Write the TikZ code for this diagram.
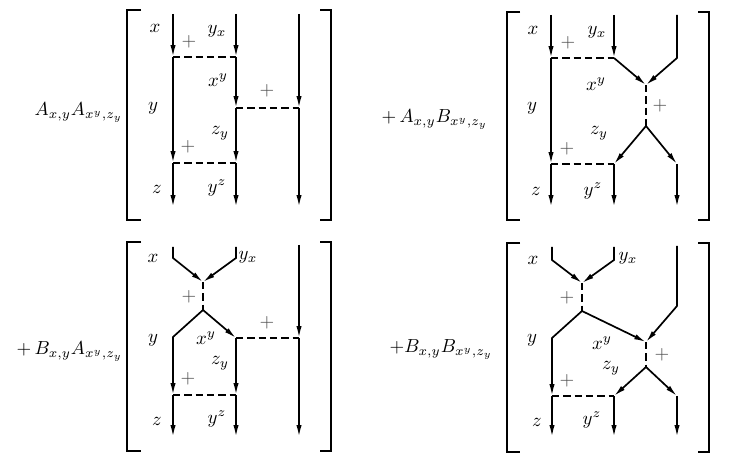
\documentclass[tikz,border=0pt]{standalone}
\usetikzlibrary{arrows.meta}
\begin{document}
\begin{tikzpicture}[x=0.53pt,y=-0.53pt,
  wire/.style={line width=0.9pt},
  arr/.style={wire,-{Latex[length=6.3pt,width=2.8pt]}},
  link/.style={line width=0.9pt,dash pattern=on 3.9pt off 2.1pt},
  brk/.style={line width=0.75pt},
  lbl/.style={inner sep=0pt},
  pl/.style={inner sep=0pt,text=black!70},
  big/.style={inner sep=0pt,anchor=base east}]
\useasboundingbox (0,0) rectangle (732,463);

% ===== Panel 1 (top left) =====
\draw[brk] (141,10) -- (127,10) -- (127,220) -- (141,220);
\draw[brk] (320,10) -- (331,10) -- (331,220) -- (320,220);
\node[big] (L1) at (123,116) {$A_{x,y}A_{x^y,z_y}$};
\coordinate (a1t) at (173,14);  \coordinate (a1p) at (173,57);
\coordinate (a1q) at (173,163); \coordinate (a1b) at (173,207);
\coordinate (a2t) at (236,14);  \coordinate (a2p) at (236,57);
\coordinate (a2r) at (236,108); \coordinate (a2q) at (236,163);
\coordinate (a2b) at (236,207);
\coordinate (a3t) at (299,14);  \coordinate (a3r) at (299,108);
\coordinate (a3b) at (299,207);
\draw[arr] (a1t) -- (a1p); \draw[arr] (a1p) -- (a1q); \draw[arr] (a1q) -- (a1b);
\draw[arr] (a2t) -- (a2p); \draw[arr] (a2p) -- (a2r); \draw[arr] (a2r) -- (a2q); \draw[arr] (a2q) -- (a2b);
\draw[arr] (a3t) -- (a3r); \draw[arr] (a3r) -- (a3b);
\draw[link] (a1p) -- (a2p);
\draw[link] (a2r) -- (a3r);
\draw[link] (a1q) -- (a2q);
\node[lbl] (a-x)  at (155,28)  {$x$};
\node[lbl] (a-yx) at (217,31)  {$y_x$};
\node[pl]  (a-p1) at (189,42)  {$+$};
\node[lbl] (a-xy) at (218,80)  {$x^y$};
\node[pl]  (a-p2) at (267,91)  {$+$};
\node[lbl] (a-y)  at (153,108) {$y$};
\node[lbl] (a-zy) at (220,133) {$z_y$};
\node[pl]  (a-p3) at (188,147) {$+$};
\node[lbl] (a-z)  at (157,189) {$z$};
\node[lbl] (a-yz) at (217,188) {$y^z$};

% ===== Panel 2 (top right) =====
\draw[brk] (520,12) -- (507,12) -- (507,220) -- (520,220);
\draw[brk] (698,12) -- (709,12) -- (709,220) -- (698,220);
\node[big] (L2) at (488,123) {$+\,A_{x,y}B_{x^y,z_y}$};
\coordinate (b1t) at (551,15);  \coordinate (b1p) at (551,58);
\coordinate (b1q) at (551,164); \coordinate (b1b) at (551,207);
\coordinate (b2t) at (614,15);  \coordinate (b2p) at (614,58);
\coordinate (bm)  at (646,85);  \coordinate (bn)  at (646,126);
\coordinate (b2q) at (614,164); \coordinate (b2b) at (614,207);
\coordinate (b3t) at (677,15);  \coordinate (b3p) at (677,58);
\coordinate (b3q) at (677,164); \coordinate (b3b) at (677,207);
\draw[arr] (b1t) -- (b1p); \draw[arr] (b1p) -- (b1q); \draw[arr] (b1q) -- (b1b);
\draw[arr] (b2t) -- (b2p); \draw[arr] (b2p) -- (bm);
\draw[arr] (b3t) -- (b3p) -- (bm);
\draw[link] (bm) -- (bn);
\draw[arr] (bn) -- (b2q); \draw[arr] (bn) -- (b3q);
\draw[arr] (b2q) -- (b2b); \draw[arr] (b3q) -- (b3b);
\draw[link] (b1p) -- (b2p);
\draw[link] (b1q) -- (b2q);
\node[lbl] (b-x)  at (533,30)  {$x$};
\node[lbl] (b-yx) at (597,32)  {$y_x$};
\node[pl]  (b-p1) at (568,43)  {$+$};
\node[lbl] (b-xy) at (596,84)  {$x^y$};
\node[pl]  (b-p2) at (660,106) {$+$};
\node[lbl] (b-y)  at (532,108) {$y$};
\node[lbl] (b-zy) at (599,133) {$z_y$};
\node[pl]  (b-p3) at (567,149) {$+$};
\node[lbl] (b-z)  at (536,191) {$z$};
\node[lbl] (b-yz) at (593,191) {$y^z$};

% ===== Panel 3 (bottom left) =====
\draw[brk] (141,242) -- (127,242) -- (127,451) -- (141,451);
\draw[brk] (320,242) -- (331,242) -- (331,451) -- (320,451);
\node[big] (L3) at (123,355) {$+\,B_{x,y}A_{x^y,z_y}$};
\coordinate (c1t) at (173,247); \coordinate (c1k) at (173,258);
\coordinate (c2t) at (236,247); \coordinate (c2k) at (236,258);
\coordinate (cm)  at (203,282); \coordinate (cn)  at (203,310);
\coordinate (c1j) at (173,337); \coordinate (c2j) at (236,338);
\coordinate (c1q) at (173,395); \coordinate (c1b) at (173,437);
\coordinate (c2q) at (236,395); \coordinate (c2b) at (236,437);
\coordinate (c3t) at (299,245); \coordinate (c3r) at (299,338);
\coordinate (c3b) at (299,437);
\draw[arr] (c1t) -- (c1k) -- (cm);
\draw[arr] (c2t) -- (c2k) -- (cm);
\draw[link] (cm) -- (cn);
\draw[arr] (cn) -- (c1j) -- (c1q); \draw[arr] (c1q) -- (c1b);
\draw[arr] (cn) -- (c2j); \draw[arr] (c2j) -- (c2q); \draw[arr] (c2q) -- (c2b);
\draw[arr] (c3t) -- (c3r); \draw[arr] (c3r) -- (c3b);
\draw[link] (c2j) -- (c3r);
\draw[link] (c1q) -- (c2q);
\node[lbl] (c-x)  at (153,258) {$x$};
\node[lbl] (c-yx) at (248,257) {$y_x$};
\node[pl]  (c-p1) at (189,297) {$+$};
\node[lbl] (c-y)  at (153,340) {$y$};
\node[lbl] (c-xy) at (206,338) {$x^y$};
\node[pl]  (c-p2) at (267,323) {$+$};
\node[lbl] (c-zy) at (220,363) {$z_y$};
\node[pl]  (c-p3) at (188,379) {$+$};
\node[lbl] (c-z)  at (157,421) {$z$};
\node[lbl] (c-yz) at (217,419) {$y^z$};

% ===== Panel 4 (bottom right) =====
\draw[brk] (520,243) -- (507,243) -- (507,452) -- (520,452);
\draw[brk] (698,243) -- (709,243) -- (709,452) -- (698,452);
\node[big] (L4) at (493,353) {$+B_{x,y}B_{x^y,z_y}$};
\coordinate (d1t) at (552,247); \coordinate (d1k) at (552,260);
\coordinate (d2t) at (614,247); \coordinate (d2k) at (614,260);
\coordinate (dm)  at (582,283); \coordinate (dn)  at (582,311);
\coordinate (d1j) at (552,338); \coordinate (d1q) at (552,396);
\coordinate (d1b) at (552,437);
\coordinate (d3t) at (677,246); \coordinate (d3k) at (677,306);
\coordinate (de)  at (646,342); \coordinate (df)  at (646,367);
\coordinate (d2q) at (614,396); \coordinate (d2b) at (614,437);
\coordinate (d3q) at (677,396); \coordinate (d3b) at (677,437);
\draw[arr] (d1t) -- (d1k) -- (dm);
\draw[arr] (d2t) -- (d2k) -- (dm);
\draw[link] (dm) -- (dn);
\draw[arr] (dn) -- (d1j) -- (d1q); \draw[arr] (d1q) -- (d1b);
\draw[arr] (dn) -- (de);
\draw[arr] (d3t) -- (d3k) -- (de);
\draw[link] (de) -- (df);
\draw[arr] (df) -- (d2q); \draw[arr] (df) -- (d3q);
\draw[arr] (d2q) -- (d2b); \draw[arr] (d3q) -- (d3b);
\draw[link] (d1q) -- (d2q);
\node[lbl] (d-x)  at (533,260) {$x$};
\node[lbl] (d-yx) at (628,258) {$y_x$};
\node[pl]  (d-p1) at (567,298) {$+$};
\node[lbl] (d-y)  at (532,340) {$y$};
\node[lbl] (d-xy) at (602,343) {$x^y$};
\node[pl]  (d-p2) at (662,355) {$+$};
\node[lbl] (d-zy) at (611,368) {$z_y$};
\node[pl]  (d-p3) at (567,381) {$+$};
\node[lbl] (d-z)  at (537,422) {$z$};
\node[lbl] (d-yz) at (592,420) {$y^z$};
\end{tikzpicture}
\end{document}
